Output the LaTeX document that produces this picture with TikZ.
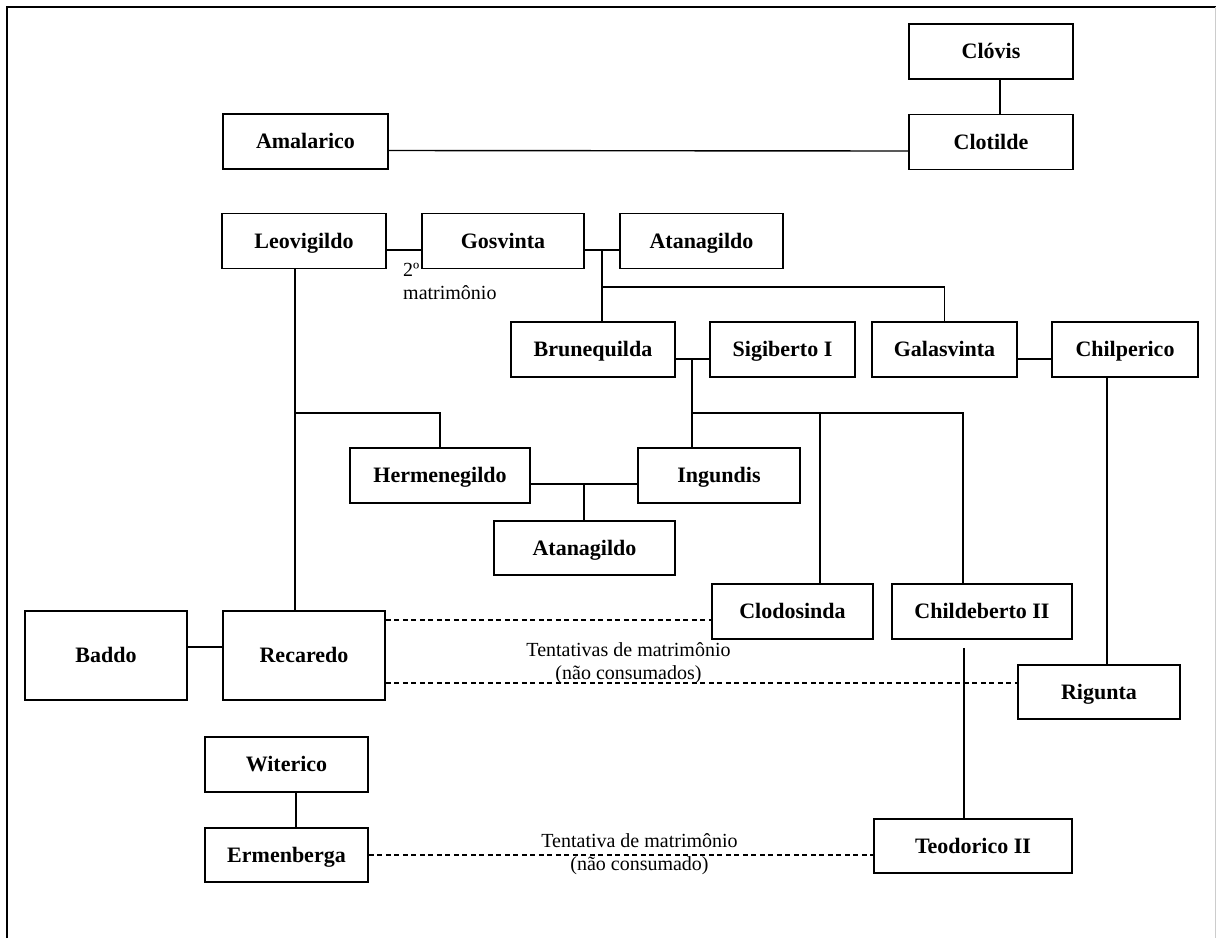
\documentclass[tikz,border=0pt]{standalone}
\usepackage{fontspec}
\setmainfont{Liberation Serif}
\usetikzlibrary{calc}
\usetikzlibrary{positioning}
\tikzset{
  pessoa/.style={draw, line width=1.7pt, inner sep=0pt, minimum height=55pt,
    text height=15pt, text depth=1pt, font=\fontsize{22}{24}\selectfont\bfseries},
  liga/.style={line width=1.4pt},
  tentativa/.style={line width=1.5pt, dash pattern=on 5pt off 3.5pt},
  nota/.style={inner sep=0pt, font=\fontsize{20}{22.5}\selectfont},
}

\begin{document}
\begin{tikzpicture}[x=1pt, y=-1pt]
  \useasboundingbox (0,0) rectangle (1216,938);
  % moldura
  \draw [line width=1.7pt] (7,938) -- (7,7) -- (1216,7);
  \draw [black!20, line width=1pt] (1215,7) -- (1215,938);

  % Clovis, Clotilde e Amalarico
  \node [pessoa, minimum width=164pt] (clovis) at (991,51.5) {Clóvis};
  \node [pessoa, minimum width=164pt] (clotilde) at (991,142) {Clotilde};
  \node [pessoa, minimum width=165pt] (amalarico) at (305.5,141.5) {Amalarico};
  \draw [liga] ([xshift=9pt]clovis.south) -- ([xshift=9pt]clotilde.north);
  \draw [liga] ([yshift=-9pt]amalarico.east) -- ([yshift=-9pt]clotilde.west);

  % Leovigildo, Gosvinta e Atanagildo
  \node [pessoa, minimum width=164pt] (leovigildo) at (304,241) {Leovigildo};
  \node [pessoa, minimum width=162pt] (gosvinta) at (503,241) {Gosvinta};
  \node [pessoa, minimum width=163pt] (atanagildo) at (701.5,241) {Atanagildo};
  \draw [liga] ([yshift=-9pt]leovigildo.east) -- ([yshift=-9pt]gosvinta.west);
  \draw [liga] ([yshift=-9pt]gosvinta.east) -- ([yshift=-9pt]atanagildo.west);
  \node [nota, align=left, anchor=north west] (segundo) at (403,263) {2º\\matrimônio};

  \node [pessoa, minimum width=164pt] (brunequilda) at (593,349.5) {Brunequilda};
  \node [pessoa, minimum width=145pt] (sigiberto) at (782.5,349.5) {Sigiberto I};
  \node [pessoa, minimum width=145pt] (galasvinta) at (944.5,349.5) {Galasvinta};
  \node [pessoa, minimum width=146pt] (chilperico) at (1125,349.5) {Chilperico};
  \draw [liga] ([yshift=-9.5pt]brunequilda.east) -- ([yshift=-9.5pt]sigiberto.west);
  \draw [liga] ([yshift=-9.5pt]galasvinta.east) -- ([yshift=-9.5pt]chilperico.west);

  \coordinate (gosatan) at (602,250);
  \coordinate (irmas) at (602,287);
  \draw [liga] (gosatan) -- (gosatan |- brunequilda.north);
  \draw [liga] (irmas) -| (galasvinta.north);

  % filhos
  \node [pessoa, minimum width=180pt] (hermenegildo) at (440,475.5) {Hermenegildo};
  \node [pessoa, minimum width=162pt] (ingundis) at (719,475.5) {Ingundis};
  \node [pessoa, minimum width=181pt, minimum height=54pt] (atanagildoB) at (584.5,548) {Atanagildo};
  \node [pessoa, minimum width=161pt] (clodosinda) at (792.5,611.5) {Clodosinda};
  \node [pessoa, minimum width=180pt] (childeberto) at (982,611.5) {Childeberto II};
  \draw [liga] ([yshift=-8.5pt]hermenegildo.east) -- ([yshift=-8.5pt]ingundis.west);

  \coordinate (brunsig) at (692,359);
  \coordinate (filhosB) at (692,413);
  \draw [liga] (brunsig) -- (brunsig |- ingundis.north);
  \draw [liga] (filhosB) -| ([xshift=-19pt]childeberto.north);
  \draw [liga] ([xshift=27.5pt]clodosinda.north) |- (filhosB);

  \coordinate (filhosL) at (295,413);
  \draw [liga] (filhosL) -| (hermenegildo.north);
  \coordinate (herming) at (584,484);
  \draw [liga] (herming) -- (herming |- atanagildoB.north);

  % Recaredo
  \node [pessoa, minimum width=162pt, minimum height=89pt] (baddo) at (106,655.5) {Baddo};
  \node [pessoa, minimum width=162pt, minimum height=89pt] (recaredo) at (304,655.5) {Recaredo};
  \node [pessoa, minimum width=162pt, minimum height=54pt] (rigunta) at (1099,692) {Rigunta};
  \draw [liga] ([xshift=-9pt]leovigildo.south) -- ([xshift=-9pt]recaredo.north);
  \draw [liga] ([yshift=8.5pt]baddo.east) -- ([yshift=8.5pt]recaredo.west);
  \draw [liga] ([xshift=-18pt]chilperico.south) -- ([xshift=8pt]rigunta.north);
  \draw [tentativa] ([yshift=35.5pt]recaredo.east) -- ([yshift=-8.5pt]clodosinda.west);
  \draw [tentativa] ([yshift=-27.5pt]recaredo.east) -- ([yshift=9pt]rigunta.west);
  \node [nota, align=center] (tentativas) at (628.5,663) {Tentativas de matrimônio\\(não consumados)};

  % Witerico e Ermenberga
  \node [pessoa, minimum width=163pt] (witerico) at (286.5,764.5) {Witerico};
  \node [pessoa, minimum width=163pt, minimum height=54pt] (ermenberga) at (286.5,855) {Ermenberga};
  \node [pessoa, minimum width=198pt, minimum height=54pt] (teodorico) at (973,846) {Teodorico II};
  \draw [liga] ([xshift=9.5pt]witerico.south) -- ([xshift=9.5pt]ermenberga.north);
  \draw [liga] ([xshift=-18pt, yshift=-8pt]childeberto.south) -- ([xshift=-9pt]teodorico.north);
  \draw [tentativa] (ermenberga.east) -- ([yshift=-9pt]teodorico.west);
  \node [nota, align=center] (tentativa) at (639.5,854) {Tentativa de matrimônio\\(não consumado)};
\end{tikzpicture}
\end{document}
